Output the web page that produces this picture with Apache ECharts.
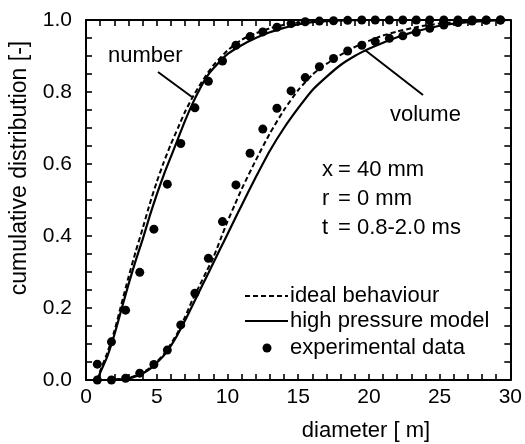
<!DOCTYPE html>
<html>
<head>
<meta charset="utf-8">
<script src="https://cdn.jsdelivr.net/npm/echarts@6/dist/echarts.min.js"></script>
<style>
html,body{margin:0;padding:0;background:#fff;}
#c{width:525px;height:444px;}
</style>
</head>
<body>
<div id="c"></div>
<script>
// experimental data (shared diameters)
var expX = [0.8,1.8,2.8,3.8,4.8,5.75,6.7,7.7,8.65,9.65,10.6,11.6,12.5,13.5,14.5,15.5,16.5,17.5,18.5,19.5,20.45,21.45,22.4,23.35,24.3,25.3,26.3,27.3,28.3,29.3];
var expNumber = [0.044,0.106,0.194,0.299,0.419,0.544,0.657,0.756,0.83,0.886,0.93,0.954,0.967,0.98,0.99,0.995,0.997,0.998,0.999,1,1,1,1,1,1,1,1,1,1,1];
var expVolume = [0,0,0.005,0.019,0.043,0.083,0.153,0.241,0.338,0.44,0.542,0.63,0.697,0.755,0.803,0.84,0.87,0.893,0.914,0.93,0.94,0.949,0.956,0.966,0.977,0.986,0.993,0.997,0.999,1.0];

// number distribution curves
var numX = [0.8,1,1.5,2,2.5,3,3.5,4,4.5,5,5.5,6,6.5,7,7.5,8,8.5,9,10,11,12,13,14,15,16,17,18,20,25,30];
var numHighPressure = [0,0.02,0.065,0.125,0.195,0.265,0.33,0.39,0.455,0.515,0.57,0.62,0.67,0.72,0.765,0.805,0.84,0.865,0.905,0.93,0.95,0.966,0.978,0.988,0.994,0.997,0.999,1,1,1];
var numIdeal = [0,0.025,0.075,0.135,0.21,0.285,0.355,0.42,0.488,0.55,0.605,0.655,0.7,0.745,0.783,0.816,0.847,0.874,0.915,0.945,0.963,0.977,0.987,0.993,0.997,0.999,1,1,1,1];

// volume distribution curves
var volX = [1.5,2,2.5,3,3.5,4,4.5,5,5.5,6,6.5,7,7.5,8,8.5,9,9.5,10,10.5,11,12,13,14,15,16,17,18,19,20,21,22,23,24,25,26,27,28,29,30];
var volHighPressure = [0,0.001,0.002,0.004,0.01,0.018,0.03,0.048,0.068,0.095,0.128,0.165,0.205,0.245,0.285,0.325,0.365,0.405,0.445,0.485,0.563,0.637,0.70,0.755,0.805,0.842,0.875,0.9,0.92,0.937,0.952,0.965,0.975,0.984,0.99,0.994,0.997,0.999,1];
var volIdeal = [0,0.001,0.003,0.006,0.012,0.02,0.033,0.05,0.072,0.1,0.133,0.175,0.22,0.26,0.3,0.34,0.39,0.44,0.485,0.53,0.61,0.685,0.75,0.805,0.848,0.878,0.903,0.925,0.942,0.957,0.968,0.977,0.985,0.99,0.994,0.997,0.999,1,1];

// tick labels
var xTicks = [0,5,10,15,20,25,30];
var yTicks = [0.0,0.2,0.4,0.6,0.8,1.0];

function pairs(xs, ys){ return xs.map(function(x,i){ return [x, ys[i]]; }); }

var FONT = '"Liberation Sans", Arial, Helvetica, sans-serif';
var chart = echarts.init(document.getElementById('c'), null, {renderer:'canvas'});

var X_MIN = 0, X_MAX = 30, Y_MIN = 0, Y_MAX = 1;

function xAx(pos, labels){
  return {
    type:'value', min:X_MIN, max:X_MAX, interval:5, position:pos,
    axisLine:{show:true, onZero:false, lineStyle:{color:'#000', width:2}},
    splitLine:{show:false},
    axisTick:{show:true, inside:true, length:6, lineStyle:{color:'#000', width:1.6}},
    minorTick:{show:true, splitNumber:5, length:6, lineStyle:{color:'#000', width:1.6}},
    axisLabel:{show:labels, color:'#000', fontSize:21, fontFamily:FONT, margin:7,
      formatter:function(v){ return xTicks.indexOf(v) >= 0 ? String(v) : ''; }}
  };
}
function yAx(pos, labels){
  return {
    type:'value', min:Y_MIN, max:Y_MAX, interval:0.2, position:pos,
    axisLine:{show:true, onZero:false, lineStyle:{color:'#000', width:2}},
    splitLine:{show:false},
    axisTick:{show:true, inside:true, length:6, lineStyle:{color:'#000', width:1.6}},
    minorTick:{show:true, splitNumber:4, length:6, lineStyle:{color:'#000', width:1.6}},
    axisLabel:{show:labels, color:'#000', fontSize:21, fontFamily:FONT, margin:14,
      formatter:function(v){ return yTicks.some(function(t){ return Math.abs(t - v) < 1e-9; }) ? v.toFixed(1) : ''; }}
  };
}

var TXT = '22px ' + FONT;
function txt(x, y, s, font){
  return {type:'text', x:x, y:y, z:10, style:{text:s, font:font || TXT, fill:'#000', align:'left', verticalAlign:'middle'}};
}

var option = {
  backgroundColor:'#fff',
  animation:false,
  grid:{left:86, right:14, top:20, bottom:64, containLabel:false},
  xAxis:[xAx('bottom', true), xAx('top', false)],
  yAxis:[yAx('left', true), yAx('right', false)],
  series:[
    {name:'number ideal', type:'line', data:pairs(numX, numIdeal), smooth:0.2, showSymbol:false, symbol:'none',
     lineStyle:{color:'#000', width:2, type:[5,3]}, z:3},
    {name:'number high pressure', type:'line', data:pairs(numX, numHighPressure), smooth:0.2, showSymbol:false, symbol:'none',
     lineStyle:{color:'#000', width:2.2, type:'solid'}, z:3},
    {name:'volume ideal', type:'line', data:pairs(volX, volIdeal), smooth:0.2, showSymbol:false, symbol:'none',
     lineStyle:{color:'#000', width:2, type:[5,3]}, z:3},
    {name:'volume high pressure', type:'line', data:pairs(volX, volHighPressure), smooth:0.2, showSymbol:false, symbol:'none',
     lineStyle:{color:'#000', width:2.2, type:'solid'}, z:3},
    {name:'number exp', type:'scatter', data:pairs(expX, expNumber), symbol:'circle', symbolSize:9,
     itemStyle:{color:'#000', opacity:1}, z:4},
    {name:'volume exp', type:'scatter', data:pairs(expX, expVolume), symbol:'circle', symbolSize:9,
     itemStyle:{color:'#000', opacity:1}, z:4}
  ],
  graphic:[
    {type:'text', x:366, y:431, style:{text:'diameter [ m]', font:TXT, fill:'#000', align:'center', verticalAlign:'middle'}},
    {type:'text', x:20, y:168, rotation:Math.PI/2, style:{text:'cumulative distribution [-]', font:'23px '+FONT, fill:'#000', align:'center', verticalAlign:'middle'}},
    txt(108, 56, 'number'),
    {type:'line', shape:{x1:158, y1:72, x2:192, y2:97}, style:{stroke:'#000', lineWidth:2}},
    txt(390, 115, 'volume'),
    {type:'line', shape:{x1:365, y1:50, x2:423, y2:95}, style:{stroke:'#000', lineWidth:2}},
    txt(322, 170, 'x'), txt(338, 170, '= 40 mm'),
    txt(322, 199, 'r'), txt(338, 199, '= 0 mm'),
    txt(322, 228, 't'), txt(338, 228, '= 0.8-2.0 ms'),
    {type:'line', shape:{x1:245, y1:296, x2:288, y2:296}, style:{stroke:'#000', lineWidth:2, lineDash:[5,3]}},
    txt(290, 296, 'ideal behaviour'),
    {type:'line', shape:{x1:245, y1:321, x2:288, y2:321}, style:{stroke:'#000', lineWidth:2}},
    txt(290, 321, 'high pressure model'),
    {type:'circle', shape:{cx:267, cy:348, r:4.5}, style:{fill:'#000'}},
    txt(290, 348, 'experimental data')
  ]
};
chart.setOption(option);
</script>
</body>
</html>
